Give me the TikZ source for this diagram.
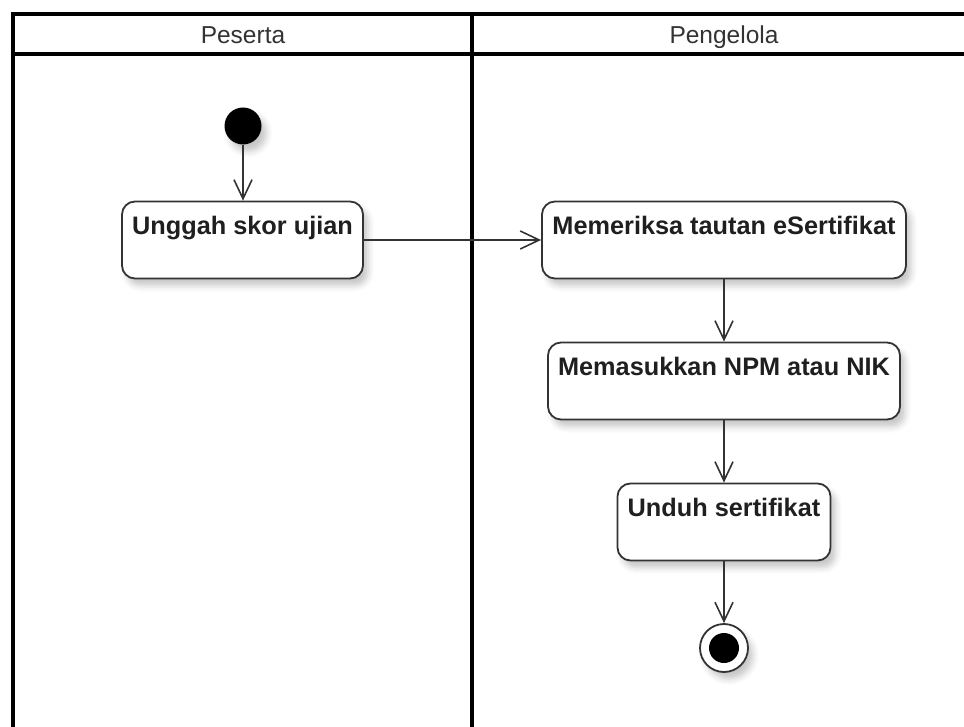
\documentclass[tikz,border=0pt]{standalone}
\usepackage{fontspec}
\setmainfont{Liberation Sans}
\usetikzlibrary{arrows.meta,shadows.blur}
\definecolor{ink}{HTML}{333333}
\begin{document}
\begin{tikzpicture}[x=1pt,y=-1pt,
  lane/.style={line width=4pt,black},
  lanehead/.style={anchor=base,font=\fontsize{24.5}{24.5}\selectfont,text=ink},
  softshadow/.style={blur shadow={shadow xshift=5pt,shadow yshift=-7pt,shadow blur radius=6pt,shadow opacity=22}},
  action/.style={draw=ink,line width=1.8pt,fill=white,rounded corners=13pt,
    inner sep=0pt,text height=33pt,text depth=44pt,
    font=\fontsize{25.3}{25.3}\selectfont\bfseries,text=black!88,softshadow},
  flow/.style={draw=ink,line width=1.6pt,-{Straight Barb[length=19pt,width=18pt]}},
  startnode/.style={circle,fill=black,minimum size=37pt,inner sep=0pt,softshadow},
  endring/.style={circle,draw=ink,line width=1.8pt,fill=white,minimum size=48pt,inner sep=0pt,softshadow},
  enddot/.style={circle,fill=black,minimum size=30pt,inner sep=0pt}]
\useasboundingbox (0,0) rectangle (964,727);

% swimlane frame
\draw[lane,line join=miter] (13,727) -- (13,14) -- (964,14);
\draw[lane] (13,54) -- (964,54);
\draw[lane] (471.5,14) -- (471.5,727);
\node[lanehead] (hpeserta) at (243,44) {Peserta};
\node[lanehead] (hpengelola) at (724,44) {Pengelola};

% activities
\node[startnode] (start) at (243,126) {};
\node[action,minimum width=241pt] (unggah) at (242.5,240) {Unggah skor ujian};
\node[action,minimum width=364pt] (periksa) at (724,240) {Memeriksa tautan eSertifikat};
\node[action,minimum width=352pt] (masuk) at (724,381) {Memasukkan NPM atau NIK};
\node[action,minimum width=213pt] (unduh) at (724,522) {Unduh sertifikat};
\node[endring] (end) at (724,648) {};
\node[enddot] (enddot) at (end) {};

% control flow
\draw[flow] (start) -- (start |- unggah.north);
\draw[flow] (unggah) -- (periksa);
\draw[flow] (periksa) -- (masuk);
\draw[flow] (masuk) -- (unduh);
\draw[flow] (unduh) -- (end);
\end{tikzpicture}
\end{document}
